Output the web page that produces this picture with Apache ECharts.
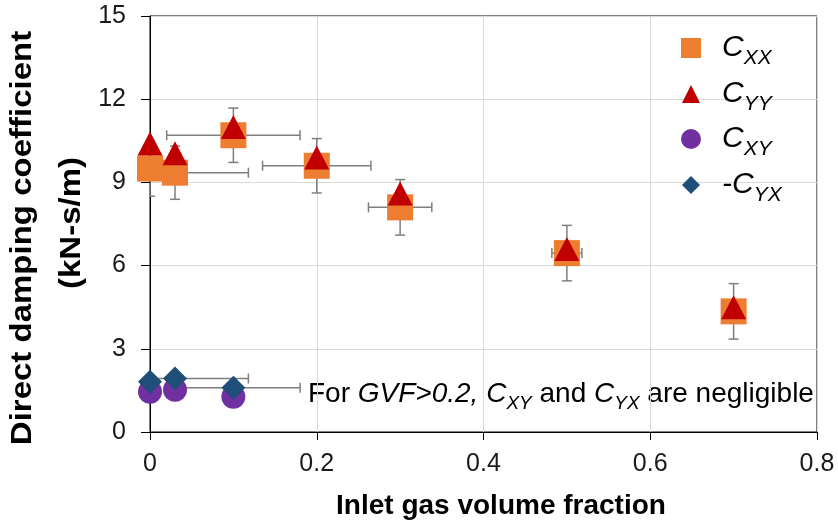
<!DOCTYPE html>
<html>
<head>
<meta charset="utf-8">
<script src="https://cdn.jsdelivr.net/npm/echarts@6/dist/echarts.min.js"></script>
<style>
  html, body { margin: 0; padding: 0; background: #fff; }
  #chart { width: 838px; height: 527px; }
</style>
</head>
<body>
<div id="chart"></div>
<script>
// Inlet gas volume fraction of each test point and its uncertainty
const gvf = [0, 0.03, 0.1, 0.2, 0.3, 0.5, 0.7];
const gvfErr = [0, 0.088, 0.08, 0.065, 0.038, 0.018, 0.01];

// Direct damping coefficients (kN-s/m)
const cxx = [9.5, 9.35, 10.7, 9.6, 8.1, 6.45, 4.35];
const cxxErr = [1.0, 0.96, 0.98, 0.98, 1.0, 1.0, 1.0];
const cyy = [10.4, 10.05, 11.0, 9.9, 8.6, 6.6, 4.5];

// Cross-coupled damping, reported only at low gas volume fraction
const gvfLow = [0, 0.03, 0.1];
const gvfLowErr = [0, 0.088, 0.08];
const cxy = [1.45, 1.52, 1.27];
const cyxNeg = [1.81, 1.93, 1.6];

// Axis ticks
const xTicks = [0, 0.2, 0.4, 0.6, 0.8];
const yTicks = [0, 3, 6, 9, 12, 15];

const FONT = '"Liberation Sans", Arial, Helvetica, sans-serif';

const seriesLabels = {
  'Cxx': '{c|C}{s|XX}',
  'Cyy': '{c|C}{s|YY}',
  'Cxy': '{c|C}{s|XY}',
  '-Cyx': '{c|-C}{s|YX}'
};

// error bars: value = [x, y, xErr, yErr]
function errorBars(xs, ys, xe, ye) {
  return {
    type: 'custom',
    silent: true,
    clip: true,
    z: 1,
    data: xs.map((x, i) => [x, ys[i], xe ? xe[i] : 0, ye ? ye[i] : 0]),
    encode: { x: 0, y: 1 },
    renderItem(params, api) {
      const x = api.value(0), y = api.value(1);
      const dx = api.value(2), dy = api.value(3);
      const c = api.coord([x, y]);
      const cap = 5;
      const style = { stroke: '#7f7f7f', lineWidth: 1.5 };
      const kids = [];
      const line = (x1, y1, x2, y2) => kids.push({ type: 'line', shape: { x1, y1, x2, y2 }, style });
      if (dy > 0) {
        const t = api.coord([x, y + dy])[1];
        const b = api.coord([x, y - dy])[1];
        line(c[0], t, c[0], b);
        line(c[0] - cap, t, c[0] + cap, t);
        line(c[0] - cap, b, c[0] + cap, b);
      }
      if (dx > 0) {
        const l = api.coord([x - dx, y])[0];
        const r = api.coord([x + dx, y])[0];
        line(l, c[1], r, c[1]);
        line(l, c[1] - cap, l, c[1] + cap);
        line(r, c[1] - cap, r, c[1] + cap);
      }
      return { type: 'group', children: kids };
    }
  };
}

function pairs(xs, ys) { return xs.map((x, i) => [x, ys[i]]); }

// legend rows: icon centre x 691, label text starting at x 722
const legendRows = [
  { name: 'Cxx', icon: 'rect', size: 20, cy: 54 },
  { name: 'Cyy', icon: 'triangle', size: 18, cy: 100 },
  { name: 'Cxy', icon: 'circle', size: 20, cy: 145 },
  { name: '-Cyx', icon: 'diamond', size: 18, cy: 191 }
];

function legendFor(r) {
  const left = 691 - r.size / 2;
  const gap = 722 - (left + r.size + 5);
  return {
    data: [{ name: r.name, icon: r.icon }],
    left: left, top: r.cy - 21,
    padding: 0, itemGap: 0,
    itemWidth: r.size, itemHeight: r.size,
    selectedMode: false,
    formatter: n => seriesLabels[n],
    textStyle: {
      color: '#000', fontFamily: FONT,
      rich: {
        c: { fontSize: 30, fontStyle: 'italic', fontFamily: FONT, color: '#000', lineHeight: 42, padding: [0, 0, 0, gap] },
        s: { fontSize: 21, fontStyle: 'italic', fontFamily: FONT, color: '#000', lineHeight: 21, verticalAlign: 'bottom' }
      }
    }
  };
}

const chart = echarts.init(document.getElementById('chart'), null, { renderer: 'canvas' });

chart.setOption({
  animation: false,
  backgroundColor: '#fff',
  grid: { left: 150, right: 21, top: 16, bottom: 95, show: true, borderColor: '#000', borderWidth: 1, backgroundColor: 'transparent' },
  xAxis: {
    type: 'value',
    min: xTicks[0], max: xTicks[xTicks.length - 1], interval: xTicks[1] - xTicks[0],
    axisLine: { show: true, lineStyle: { color: '#000', width: 1 } },
    axisTick: { show: true, inside: false, length: 8, lineStyle: { color: '#000', width: 1 } },
    axisLabel: { fontSize: 25, fontFamily: FONT, color: '#1a1a1a', margin: 20, formatter: v => String(+v.toFixed(1)) },
    splitLine: { show: true, lineStyle: { color: '#d9d9d9', width: 1 } }
  },
  yAxis: {
    type: 'value',
    min: yTicks[0], max: yTicks[yTicks.length - 1], interval: yTicks[1] - yTicks[0],
    axisLine: { show: true, lineStyle: { color: '#000', width: 1 } },
    axisTick: { show: true, inside: false, length: 9, lineStyle: { color: '#000', width: 1 } },
    axisLabel: { fontSize: 25, fontFamily: FONT, color: '#1a1a1a', margin: 24 },
    splitLine: { show: true, lineStyle: { color: '#d9d9d9', width: 1 } }
  },
  legend: legendRows.map(legendFor),
  series: [
    errorBars(gvf, cxx, gvfErr, cxxErr),
    errorBars(gvfLow, cyxNeg, gvfLowErr, null),
    {
      name: 'Cxx', type: 'scatter', z: 2, symbol: 'rect', symbolSize: 26,
      itemStyle: { color: '#ED7D31', opacity: 1 }, data: pairs(gvf, cxx)
    },
    {
      name: 'Cyy', type: 'scatter', z: 2, symbol: 'triangle', symbolSize: [25, 24],
      itemStyle: { color: '#C00000', opacity: 1 }, data: pairs(gvf, cyy)
    },
    {
      name: 'Cxy', type: 'scatter', z: 2, symbol: 'circle', symbolSize: 24,
      itemStyle: { color: '#7030A0', opacity: 1 }, data: pairs(gvfLow, cxy)
    },
    {
      name: '-Cyx', type: 'scatter', z: 2, symbol: 'diamond', symbolSize: [24, 24],
      itemStyle: { color: '#1F4E79', opacity: 1 }, data: pairs(gvfLow, cyxNeg)
    }
  ],
  graphic: [
    {
      type: 'text', x: 23, y: 238, rotation: Math.PI / 2, scaleX: 1.1, silent: true,
      style: { text: 'Direct damping coefficient', fontSize: 30, fontWeight: 'bold', fontFamily: FONT, fill: '#000', align: 'center', verticalAlign: 'middle' }
    },
    {
      type: 'text', x: 72, y: 223, rotation: Math.PI / 2, scaleX: 1.1, silent: true,
      style: { text: '(kN-s/m)', fontSize: 30, fontWeight: 'bold', fontFamily: FONT, fill: '#000', align: 'center', verticalAlign: 'middle' }
    },
    {
      type: 'text', x: 501, y: 506, silent: true,
      style: { text: 'Inlet gas volume fraction', fontSize: 28, fontWeight: 'bold', fontFamily: FONT, fill: '#000', align: 'center', verticalAlign: 'middle' }
    },
    {
      type: 'text', x: 308, y: 394, silent: true,
      style: {
        text: '{n|For }{i|GVF>0.2, }{c|C}{s|XY}{n| and }{c|C}{s|YX}{n| are negligible}',
        align: 'left', verticalAlign: 'middle', fill: '#000',
        rich: {
          n: { fontSize: 28, fontFamily: FONT, fill: '#000', lineHeight: 38 },
          i: { fontSize: 28, fontStyle: 'italic', fontFamily: FONT, fill: '#000', lineHeight: 38 },
          c: { fontSize: 28, fontStyle: 'italic', fontFamily: FONT, fill: '#000', lineHeight: 38 },
          s: { fontSize: 19, fontStyle: 'italic', fontFamily: FONT, fill: '#000', lineHeight: 19, verticalAlign: 'bottom' }
        }
      }
    }
  ]
});
</script>
</body>
</html>
